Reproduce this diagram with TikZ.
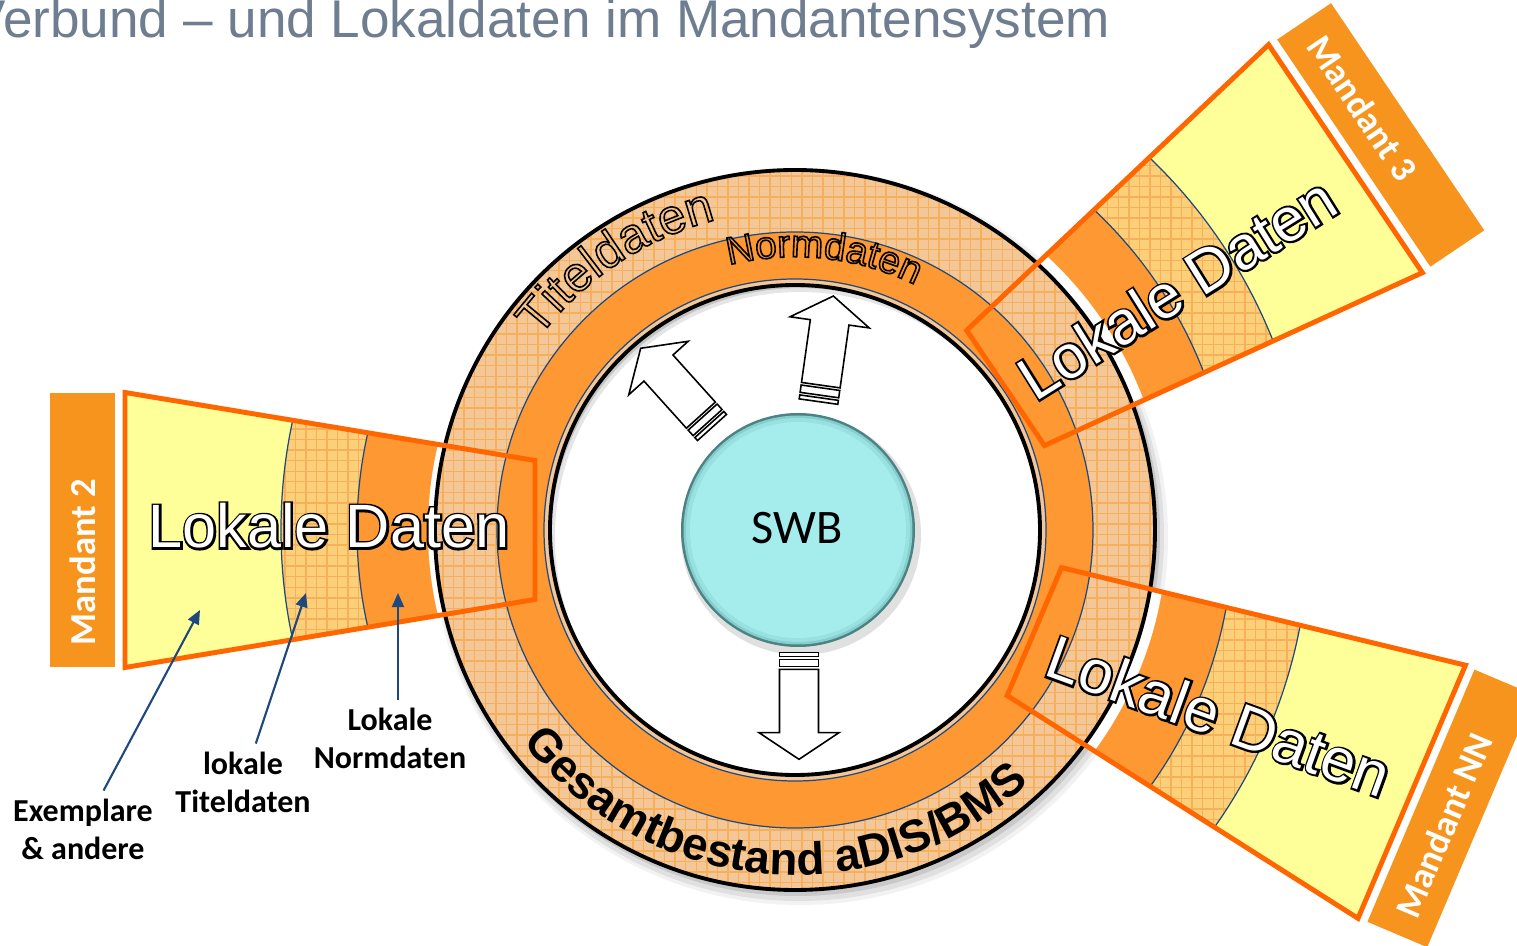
\documentclass[tikz,border=0pt]{standalone}
\usepackage{fontspec}
\setmainfont{Liberation Sans}
\newfontfamily\carlito{Carlito}
\usetikzlibrary{arrows.meta,patterns,decorations.text}
\definecolor{ringpeach}{RGB}{243,199,152}
\definecolor{gridorange}{RGB}{248,175,90}
\definecolor{solidorange}{RGB}{253,152,51}
\definecolor{wedgehatch}{RGB}{252,208,120}
\definecolor{paleyellow}{RGB}{255,255,153}
\definecolor{lineorange}{RGB}{255,102,0}
\definecolor{boxorange}{RGB}{247,148,30}
\definecolor{darkblue}{RGB}{31,73,125}
\definecolor{titlegrey}{RGB}{110,125,143}
\definecolor{swbcyan}{RGB}{165,237,237}
\definecolor{swbmid}{RGB}{135,205,205}
\definecolor{swbrim}{RGB}{75,130,130}
% white letters with a black contour: stroked copy underneath, filled copy on top
\newcommand\whiteoutline[1]{\rlap{\special{pdf:literal direct 1 Tr 1.2 w 0 0 0 RG}#1\special{pdf:literal direct 0 Tr}}#1}
\newcommand\strokeonly{\special{pdf:literal direct 1 Tr 0.45 w 0 0 0 RG}}
\tikzset{
  ringline/.style={draw=black, line width=1.1pt},
  blueline/.style={draw=darkblue, line width=0.35pt},
  wedgeline/.style={draw=lineorange, line width=1.4pt, line join=miter},
  mandbox/.style={fill=boxorange},
  mandtext/.style={text=white, inner sep=0pt, font=\carlito\bfseries\fontsize{10.4}{12}\selectfont},
  bigtext/.style={text=white, inner sep=0pt, font=\fontsize{17.4}{20}\selectfont},
  lbl/.style={align=center, inner sep=0pt, outer sep=2.3pt, font=\carlito\bfseries\fontsize{9.1}{10.8}\selectfont},
  ptr/.style={draw=darkblue, line width=0.6pt, -{Triangle[length=4pt,width=3.4pt]}},
  arrowline/.style={draw=black, fill=white, line width=0.45pt, line join=miter},
  stripedarrow/.pic={
    \draw[arrowline] (0,-19.5) rectangle (4,19.5);
    \draw[arrowline] (6.6,-19.5) rectangle (14,19.5);
    \draw[arrowline] (16.6,-19.5) -- (80,-19.5) -- (80,-40) -- (106.6,0) -- (80,40) -- (80,19.5) -- (16.6,19.5) -- cycle;
  }
}
\begin{document}
\begin{tikzpicture}[x=0.01cm,y=0.01cm]
\useasboundingbox (0,0) rectangle (1517,-946);
\fill[white] (0,0) rectangle (1517,-946);

% title
\node[anchor=base west, inner sep=0pt, text=titlegrey, font=\fontsize{15.1}{17}\selectfont] (title) at (-30,-38) {Verbund – und Lokaldaten im Mandantensystem};

\begin{scope}[shift={(795,-530)}]
  % ring drop shadow
  \fill[black, opacity=0.05] (5,-7) circle[radius=368];
  \fill[black, opacity=0.07] (4,-6) circle[radius=365];
  \fill[black, opacity=0.10] (3,-4) circle[radius=362];

  % wedge fills
  \foreach \ang/\wr/\sh in {180/367/0, 34/372/-6, -23/372/0}{
    \begin{scope}[rotate=\ang]
      \clip (260+\sh,-69.5) -- (670+\sh,-137.5) -- (670+\sh,137.5) -- (260+\sh,69.5) -- cycle;
      \fill[paleyellow] (0,0) circle[radius=700];
      \fill[wedgehatch] (0,0) circle[radius=514];
      \fill[pattern=grid, pattern color=gridorange] (0,0) circle[radius=514];
      \fill[solidorange] (0,0) circle[radius=438];
      \draw[blueline] (0,0) circle[radius=514];
      \draw[blueline] (0,0) circle[radius=438];
      \fill[white] (0,0) circle[radius=\wr];
    \end{scope}
  }

  % ring
  \fill[ringpeach] (0,0) circle[radius=360];
  \fill[pattern=grid, pattern color=gridorange] (0,0) circle[radius=360];
  \fill[solidorange] (0,0) circle[radius=298];
  \draw[blueline] (0,0) circle[radius=298];
  \fill[ringpeach] (0,0) circle[radius=251];
  \draw[blueline] (0,0) circle[radius=251];
  \fill[white] (0,0) circle[radius=245];
  \begin{scope}
    \clip (0,0) circle[radius=245];
    \draw[black, opacity=0.10, line width=6.8pt] (5,-7) circle[radius=257];
    \draw[black, opacity=0.14, line width=4.6pt] (5,-7) circle[radius=257];
  \end{scope}
  \draw[ringline] (0,0) circle[radius=245];
  \draw[ringline] (0,0) circle[radius=360];

  % wedge outlines and Mandant boxes
  \foreach \ang/\sh/\lab/\trot/\tv [count=\i] in {180/0/Mandant 2/90/116, 34/-6/Mandant 3/-56/116, -23/0/Mandant NN/67/-117}{
    \begin{scope}[rotate=\ang]
      \draw[wedgeline] (260+\sh,-69.5) -- (670+\sh,-137.5) -- (670+\sh,137.5) -- (260+\sh,69.5) -- cycle;
      \fill[mandbox] (680+\sh,-137) rectangle (745+\sh,137);
      \node[mandtext, rotate=\trot, anchor=west] (mand\i) at (712.5+\sh,\tv) {\lab};
    \end{scope}
  }

  % curved texts
  \begin{scope}
  \path[decorate, decoration={text along path, text align=left,
      text={|\fontsize{14}{16}\selectfont\strokeonly|Titeldaten}}]
      (143:320) arc[start angle=143, end angle=60, radius=320];
  \end{scope}
  \begin{scope}
  \path[decorate, decoration={text along path, text align=left,
      text={|\fontsize{11}{13}\selectfont\strokeonly|Normdaten}}]
      (104:273) arc[start angle=104, end angle=30, radius=273];
  \end{scope}
  \begin{scope}
  \path[decorate, decoration={text along path, text align=left,
      text={|\fontsize{13}{15}\selectfont\bfseries|Gesamtbestand aDIS/BMS}}]
      (218:345) arc[start angle=218, end angle=340, radius=345];
  \end{scope}
\end{scope}

% big wedge texts
\node[bigtext] (ld2) at (329,-526) {\whiteoutline{Lokale Daten}};
\node[bigtext, rotate=32] (ld3) at (1177,-288) {\whiteoutline{Lokale Daten}};
\node[bigtext, rotate=-20] (ldNN) at (1219,-716) {\whiteoutline{Lokale Daten}};

% SWB disk
\fill[black, opacity=0.12] (801,-535) circle[radius=120];
\fill[swbrim] (798,-530) circle[radius=117];
\fill[swbmid] (798,-530) circle[radius=114.5];
\fill[swbcyan, opacity=0.6] (798,-530) circle[radius=112];
\fill[swbcyan] (798,-530) circle[radius=108];
\node[inner sep=0pt, font=\carlito\fontsize{13.7}{15}\selectfont] (swb) at (797,-528) {SWB};

% block arrows
\pic[rotate=-90] at (799,-652.7) {stripedarrow};
\pic[rotate=82] at (818.5,-401.6) {stripedarrow};
\pic[rotate=132] at (712,-427.5) {stripedarrow};

% labels with pointers
\coordinate (pEx) at (200,-610);
\coordinate (pTit) at (306,-593);
\coordinate (pNorm) at (398,-593);
\node[lbl] (lblEx) at (83,-829) {Exemplare\\\& andere};
\node[lbl] (lblTit) at (243,-782) {lokale\\Titeldaten};
\node[lbl] (lblNorm) at (390,-738) {Lokale\\Normdaten};
\draw[ptr] (lblEx) -- (pEx);
\draw[ptr] (lblTit) -- (pTit);
\draw[ptr] (lblNorm.north -| pNorm) -- (pNorm);
\end{tikzpicture}
\end{document}
